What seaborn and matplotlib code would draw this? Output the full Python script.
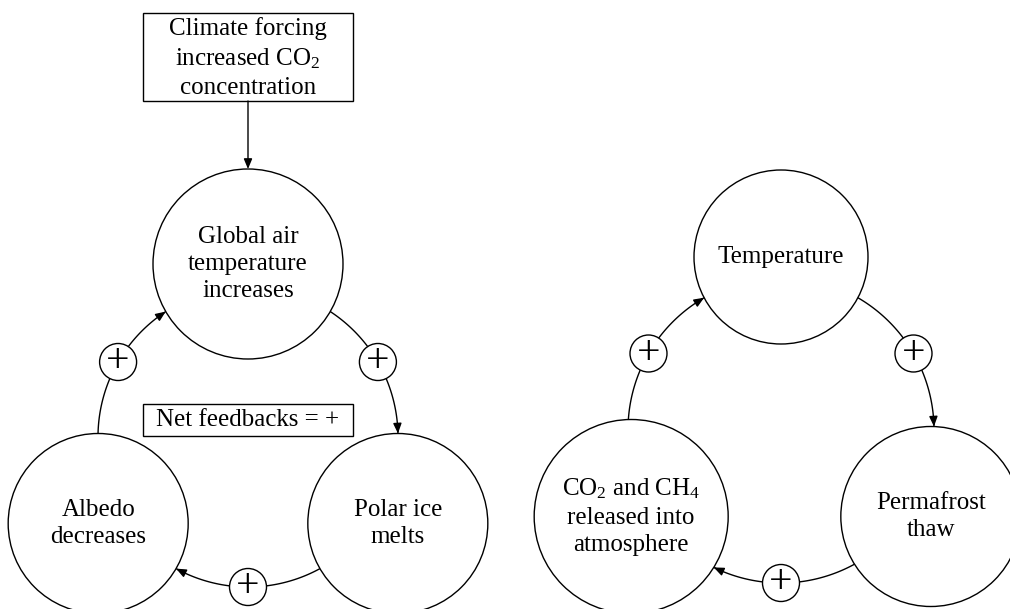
import numpy as np
import matplotlib
matplotlib.use("Agg")
import matplotlib.pyplot as plt
from matplotlib.patches import Circle, Rectangle
import seaborn as sns

# diagram text
forcing_label = "Climate forcing\nincreased CO$_2$\nconcentration"
net_label = "Net feedbacks = +"
left_nodes = ["Global air\ntemperature\nincreases", "Polar ice\nmelts", "Albedo\ndecreases"]
right_nodes = ["Temperature", "Permafrost\nthaw", "CO$_2$ and CH$_4$\nreleased into\natmosphere"]
left_signs = ["+", "+", "+"]
right_signs = ["+", "+", "+"]

sns.set_theme(style="white")
plt.rcParams["font.family"] = ["Liberation Serif", "DejaVu Serif"]
plt.rcParams["mathtext.fontset"] = "custom"
plt.rcParams["mathtext.rm"] = "Liberation Serif"
plt.rcParams["mathtext.it"] = "Liberation Serif:italic"
plt.rcParams["mathtext.default"] = "regular"
plt.rcParams["text.color"] = "black"

FS = 18
LS = 1.32
LW = 1.0


def arc_xy(center, R, a0, a1, n=120):
    t = np.radians(np.linspace(a0, a1, n))
    return center[0] + R * np.cos(t), center[1] - R * np.sin(t)


def draw_loop(ax, center, R, dist, radii, labels, signs, plus_r=18.5):
    """Three nodes on a ring, linked clockwise by arrows with sign badges."""
    angles = [90, -30, -150]
    for a, r, lab in zip(angles, radii, labels):
        x = center[0] + dist * np.cos(np.radians(a))
        y = center[1] - dist * np.sin(np.radians(a))
        ax.add_patch(Circle((x, y), r, facecolor="white", edgecolor="black", lw=LW, zorder=2))
        ax.text(x, y, lab, ha="center", va="center", fontsize=FS, linespacing=LS, zorder=4)

    for i in range(3):
        a0 = angles[i]
        a1 = a0 - 120
        r0 = radii[i]
        r1 = radii[(i + 1) % 3]
        off0 = np.degrees(np.arccos((R ** 2 + dist ** 2 - r0 ** 2) / (2 * R * dist)))
        off1 = np.degrees(np.arccos((R ** 2 + dist ** 2 - r1 ** 2) / (2 * R * dist)))
        start, end = a0 - off0, a1 + off1
        xs, ys = arc_xy(center, R, start, end)
        sns.lineplot(x=xs, y=ys, sort=False, ax=ax, color="black", lw=LW, zorder=1)
        tx, ty = arc_xy(center, R, end + 3.5, end, n=2)
        ax.annotate("", xy=(tx[1], ty[1]), xytext=(tx[0], ty[0]),
                    arrowprops=dict(arrowstyle="-|>,head_length=0.6,head_width=0.25",
                                    mutation_scale=10, color="black", lw=LW,
                                    shrinkA=0, shrinkB=0), zorder=3)
        # sign badge halfway along the arc
        mx, my = arc_xy(center, R, a0 - 60, a0 - 60, n=1)
        ax.add_patch(Circle((mx[0], my[0]), plus_r, facecolor="white", edgecolor="black",
                            lw=LW, zorder=3))
        ax.text(mx[0], my[0], signs[i], ha="center", va="center", fontsize=30, zorder=4)


fig = plt.figure(figsize=(10.1, 6.09), dpi=100)
ax = fig.add_axes([0, 0, 1, 1])
ax.set_xlim(0, 1010)
ax.set_ylim(609, 0)
ax.axis("off")

# forcing box and arrow into the top node
ax.add_patch(Rectangle((143, 13), 210, 88, facecolor="white", edgecolor="black", lw=LW))
ax.text(248, 58, forcing_label, ha="center", va="center", fontsize=FS, linespacing=LS)
ax.annotate("", xy=(248, 169), xytext=(248, 101),
            arrowprops=dict(arrowstyle="-|>,head_length=0.6,head_width=0.25",
                            mutation_scale=10, color="black", lw=LW, shrinkA=0, shrinkB=0))

draw_loop(ax, (248, 437), 150, 173, [95, 90, 90], left_nodes, left_signs)
draw_loop(ax, (781, 430), 153, 173, [87, 90, 97], right_nodes, right_signs)

# net feedback label
ax.add_patch(Rectangle((143, 404), 210, 32, facecolor="white", edgecolor="black", lw=LW, zorder=2))
ax.text(248, 420, net_label, ha="center", va="center", fontsize=FS, zorder=4)

fig.savefig("out.png", dpi=100)
